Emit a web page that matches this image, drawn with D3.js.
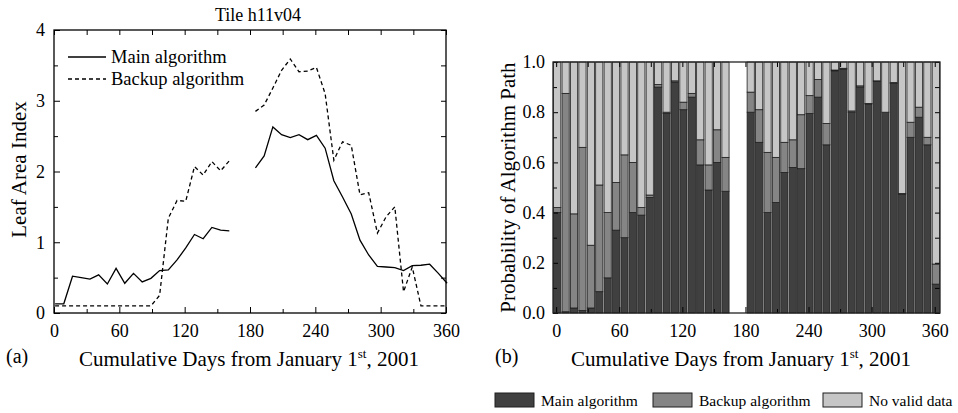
<!DOCTYPE html>
<html>
<head>
<meta charset="utf-8">
<script src="https://cdn.jsdelivr.net/npm/d3@7"></script>
<style>
  body { margin: 0; background: #fff; }
  svg { display: block; font-family: "Liberation Serif", "Times New Roman", serif; }
</style>
</head>
<body>
<svg id="chart" width="958" height="413"></svg>
<script>
// 8-day composite start days
var days = [1, 9, 17, 25, 33, 41, 49, 57, 65, 73, 81, 89, 97, 105, 113, 121, 129, 137, 145, 153, 161,
            169, 177, 185, 193, 201, 209, 217, 225, 233, 241, 249, 257, 265, 273, 281, 289, 297, 305,
            313, 321, 329, 337, 345, 353, 361];

// panel (a) : leaf area index, null = missing composite
var lai_main = [0.13, 0.13, 0.52, 0.50, 0.48, 0.54, 0.41, 0.63, 0.42, 0.56, 0.44, 0.49, 0.60, 0.61,
                0.75, 0.92, 1.11, 1.05, 1.21, 1.17, 1.16, null, null, 2.05, 2.22, 2.63, 2.52, 2.48,
                2.52, 2.45, 2.51, 2.33, 1.87, 1.64, 1.40, 1.03, 0.82, 0.66, 0.65, 0.64, 0.60, 0.67,
                0.675, 0.69, 0.56, 0.42];
var lai_backup = [0.10, 0.10, 0.10, 0.10, 0.10, 0.10, 0.10, 0.10, 0.10, 0.10, 0.10, 0.10, 0.25, 1.34,
                  1.59, 1.58, 2.07, 1.95, 2.14, 2.01, 2.15, null, null, 2.85, 2.94, 3.18, 3.43, 3.59,
                  3.41, 3.42, 3.47, 3.10, 2.16, 2.42, 2.37, 1.67, 1.70, 1.13, 1.36, 1.50, 0.30, 0.65,
                  0.10, 0.10, 0.10, 0.10];

// panel (b) : probability of algorithm path
var p_main = [0.40, 0.005, 0.02, 0.01, 0.02, 0.085, 0.14, 0.33, 0.30, 0.40, 0.39, 0.46, 0.90, 0.795,
              0.92, 0.81, 0.86, 0.59, 0.49, 0.60, 0.485, null, null, 0.80, 0.68, 0.40, 0.44, 0.56,
              0.58, 0.575, 0.795, 0.86, 0.67, 0.965, 0.972, 0.80, 0.90, 0.833, 0.923, 0.80, 0.915,
              0.474, 0.70, 0.78, 0.67, 0.115];
var p_backup = [0.02, 0.87, 0.375, 0.65, 0.25, 0.425, 0.26, 0.19, 0.33, 0.20, 0.03, 0.01, 0.01, 0.005,
                0.005, 0.03, 0.015, 0.10, 0.10, 0.13, 0.135, null, null, 0.08, 0.13, 0.24, 0.18, 0.12,
                0.11, 0.215, 0.071, 0.07, 0.085, 0.003, 0.003, 0.005, 0.005, 0.002, 0.002, 0.0, 0.003,
                0.002, 0.06, 0.04, 0.03, 0.08];
var p_none = [0.58, 0.125, 0.605, 0.34, 0.73, 0.49, 0.60, 0.48, 0.37, 0.40, 0.58, 0.53, 0.09, 0.20,
              0.075, 0.16, 0.125, 0.31, 0.41, 0.27, 0.38, null, null, 0.12, 0.19, 0.36, 0.38, 0.32,
              0.31, 0.21, 0.134, 0.07, 0.245, 0.032, 0.025, 0.195, 0.095, 0.165, 0.075, 0.20, 0.082,
              0.524, 0.24, 0.18, 0.30, 0.805];

var x_ticks = [0, 60, 120, 180, 240, 300, 360];
var x_minor = [30, 90, 150, 210, 270, 330];
var lai_ticks = [0, 1, 2, 3, 4];
var lai_minor = [0.5, 1.5, 2.5, 3.5];
var p_ticks = [0, 0.2, 0.4, 0.6, 0.8, 1.0];
var p_minor = [0.1, 0.3, 0.5, 0.7, 0.9];

var path_names = ["Main algorithm", "Backup algorithm", "No valid data"];
var path_colors = ["#404040", "#858585", "#c6c6c6"];

var svg = d3.select("#chart");

function styleAxis(g, size) {
  g.select(".domain").remove();
  g.selectAll(".tick line").attr("stroke", "#000").attr("stroke-width", 1);
  g.selectAll(".tick text").attr("fill", "#000").style("font-size", size + "px")
   .style("font-family", "Liberation Serif, Times New Roman, serif");
}

// ---------- panel (a) ----------
var xA = d3.scaleLinear().domain([0, 360]).range([54, 446]);
var yA = d3.scaleLinear().domain([0, 4]).range([313, 30]);

var gA = svg.append("g");

gA.append("g").attr("transform", "translate(0,313)")
  .call(d3.axisBottom(xA).tickValues(x_ticks).tickSize(-6).tickPadding(11).tickFormat(d3.format("d")))
  .call(styleAxis, 18);
gA.append("g").attr("transform", "translate(0,313)")
  .call(d3.axisBottom(xA).tickValues(x_minor).tickSize(-4).tickFormat(""))
  .call(styleAxis, 18);
gA.append("g").attr("transform", "translate(0,30)")
  .call(d3.axisTop(xA).tickValues(x_ticks.concat(x_minor)).tickSize(-5).tickFormat(""))
  .call(styleAxis, 18);

gA.append("g").attr("transform", "translate(54,0)")
  .call(d3.axisLeft(yA).tickValues(lai_ticks).tickSize(-6).tickPadding(9).tickFormat(d3.format("d")))
  .call(styleAxis, 18);
gA.append("g").attr("transform", "translate(54,0)")
  .call(d3.axisLeft(yA).tickValues(lai_minor).tickSize(-4).tickFormat(""))
  .call(styleAxis, 18);
gA.append("g").attr("transform", "translate(446,0)")
  .call(d3.axisRight(yA).tickValues(lai_ticks.concat(lai_minor)).tickSize(-5).tickFormat(""))
  .call(styleAxis, 18);

gA.append("rect")
  .attr("x", xA(0)).attr("y", yA(4))
  .attr("width", xA(360) - xA(0)).attr("height", yA(0) - yA(4))
  .attr("fill", "none").attr("stroke", "#000").attr("stroke-width", 1.3);

var lai_line = d3.line()
  .defined(d => d[1] != null)
  .x(d => xA(d[0]))
  .y(d => yA(d[1]));

gA.append("path")
  .datum(days.map((d, i) => [d, lai_main[i]]))
  .attr("d", lai_line)
  .attr("fill", "none").attr("stroke", "#000").attr("stroke-width", 1.3);

gA.append("path")
  .datum(days.map((d, i) => [d, lai_backup[i]]))
  .attr("d", lai_line)
  .attr("fill", "none").attr("stroke", "#000").attr("stroke-width", 1.3)
  .attr("stroke-dasharray", "4,3");

// legend (a)
var legA = gA.append("g");
[0, 1].forEach(i => {
  var y = 57 + i * 22;
  legA.append("line")
    .attr("x1", 68).attr("x2", 106).attr("y1", y).attr("y2", y)
    .attr("stroke", "#000").attr("stroke-width", 1.3)
    .attr("stroke-dasharray", i == 1 ? "4,3" : null);
  legA.append("text")
    .attr("x", 111).attr("y", y + 6)
    .style("font-size", "18.5px")
    .text(path_names[i]);
});

gA.append("text")
  .attr("x", 258).attr("y", 21)
  .attr("text-anchor", "middle")
  .style("font-size", "18px")
  .text("Tile h11v04");

gA.append("text")
  .attr("transform", "translate(26," + (yA(2) - 2) + ") rotate(-90)")
  .attr("text-anchor", "middle")
  .style("font-size", "21px")
  .text("Leaf Area Index");

// ---------- panel (b) ----------
var xB = d3.scaleLinear().domain([-3, 365]).range([553, 940]);
var yB = d3.scaleLinear().domain([0, 1]).range([313, 62]);

var gB = svg.append("g");

var rows = days.map((d, i) => ({ day: d, main: p_main[i], backup: p_backup[i], none: p_none[i] }))
               .filter(r => r.main != null);

var stack = d3.stack().keys(["main", "backup", "none"]);
var series = stack(rows);

gB.selectAll("g.layer")
  .data(series)
  .enter().append("g")
  .attr("class", "layer")
  .attr("fill", (s, i) => path_colors[i])
  .selectAll("rect")
  .data(s => s)
  .enter().append("rect")
  .attr("x", d => xB(d.data.day - 4) + 0.6)
  .attr("width", d => xB(Math.min(d.data.day + 4, 365)) - xB(d.data.day - 4) - 1.2)
  .attr("y", d => yB(Math.min(d[1], 1)))
  .attr("height", d => yB(d[0]) - yB(Math.min(d[1], 1)))
  .attr("stroke", "#1e1e1e").attr("stroke-width", 0.8);

gB.append("g").attr("transform", "translate(0,313)")
  .call(d3.axisBottom(xB).tickValues(x_ticks).tickSize(-6).tickPadding(11).tickFormat(d3.format("d")))
  .call(styleAxis, 18);
gB.append("g").attr("transform", "translate(0,313)")
  .call(d3.axisBottom(xB).tickValues(x_minor).tickSize(-4).tickFormat(""))
  .call(styleAxis, 18);
gB.append("g").attr("transform", "translate(0,62)")
  .call(d3.axisTop(xB).tickValues(x_ticks.concat(x_minor)).tickSize(-5).tickFormat(""))
  .call(styleAxis, 18);

gB.append("g").attr("transform", "translate(553,0)")
  .call(d3.axisLeft(yB).tickValues(p_ticks).tickSize(-5).tickPadding(8).tickFormat(d3.format(".1f")))
  .call(styleAxis, 18);
gB.append("g").attr("transform", "translate(553,0)")
  .call(d3.axisLeft(yB).tickValues(p_minor).tickSize(-4).tickFormat(""))
  .call(styleAxis, 18);
gB.append("g").attr("transform", "translate(940,0)")
  .call(d3.axisRight(yB).tickValues(p_ticks.concat(p_minor)).tickSize(-5).tickFormat(""))
  .call(styleAxis, 18);

gB.append("rect")
  .attr("x", xB(-3)).attr("y", yB(1))
  .attr("width", xB(365) - xB(-3)).attr("height", yB(0) - yB(1))
  .attr("fill", "none").attr("stroke", "#222").attr("stroke-width", 1.3);

gB.append("text")
  .attr("transform", "translate(515," + yB(0.5) + ") rotate(-90)")
  .attr("text-anchor", "middle")
  .style("font-size", "21px")
  .text("Probability of Algorithm Path");

// x titles and panel letters
function xTitle(cx, letter, lx) {
  var t = svg.append("text")
    .attr("x", cx).attr("y", 366)
    .attr("text-anchor", "middle")
    .style("font-size", "21px");
  t.append("tspan").text("Cumulative Days from January 1");
  t.append("tspan").attr("dy", -8).style("font-size", "13px").text("st");
  t.append("tspan").attr("dy", 8).text(", 2001");
  svg.append("text")
    .attr("x", lx).attr("y", 363)
    .style("font-size", "20px")
    .text(letter);
}
xTitle(249, "(a)", 6);
xTitle(741, "(b)", 495);

// legend (b)
var legB = svg.append("g");
var leg_x = [495, 653, 823];
path_names.forEach((name, i) => {
  legB.append("rect")
    .attr("x", leg_x[i]).attr("y", 393)
    .attr("width", 39).attr("height", 14)
    .attr("fill", path_colors[i]).attr("stroke", "#1e1e1e").attr("stroke-width", 1);
  legB.append("text")
    .attr("x", leg_x[i] + 46).attr("y", 406)
    .style("font-size", "15.5px")
    .text(name);
});
</script>
</body>
</html>
